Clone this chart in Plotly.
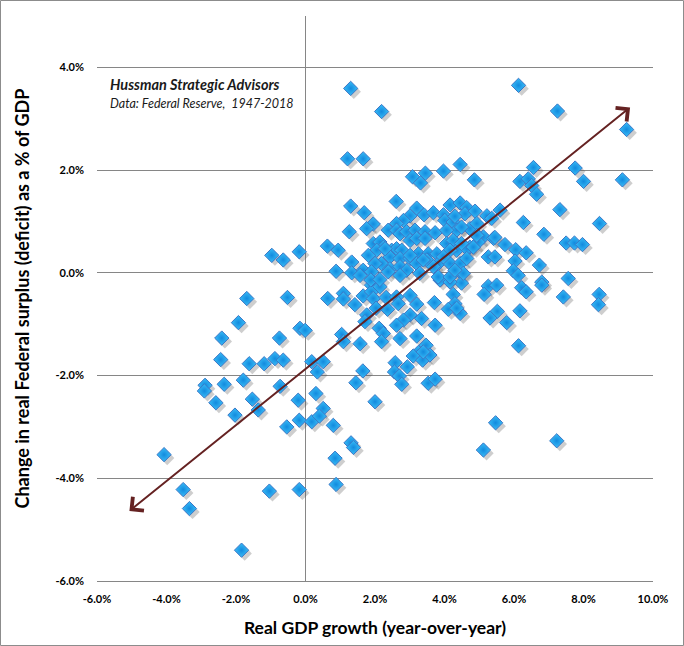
import plotly.graph_objects as go

# Real GDP growth (year-over-year, %) and change in real federal surplus (% of GDP)
gdp_growth = [
    # upper / isolated
    1.30, 2.19, 1.21, 1.66, 3.08, 3.45, 3.31, 3.97, 4.45, 4.86, 1.30, 1.69, 2.61, 1.26, 1.95, 1.76,
    0.63, 0.94, -0.18, 1.33, 0.88, 1.33, -0.97, -0.64,
    # right side
    6.13, 7.25, 9.24, 6.56, 7.76, 8.00, 9.12, 6.17, 6.41, 6.51, 6.65, 7.32, 8.46, 6.27, 5.60, 5.22,
    5.36, 6.86, 7.50, 7.74, 7.97, 5.74, 6.05, 6.35, 5.26, 5.45, 6.03, 6.73, 5.98, 6.12, 7.56,
    4.83, 5.12, 5.41, 4.97, 4.73, 5.45,
    # right, below zero
    4.49, 4.49, 5.26, 5.50, 5.14, 6.22, 6.35, 6.80, 6.80, 7.42, 8.45, 8.43, 5.52, 5.31, 5.79, 6.17,
    6.13, 4.45, 5.47, 5.12, 7.23,
    # centre, below zero
    0.64, 1.09, 1.09, 1.42, 1.66, 1.90, 1.90, 2.14, 1.95, 2.32, 2.36, 2.03, 1.76, 1.71, 2.62, 2.67,
    3.01, 3.20, 3.01, 2.82, 2.62, 3.34, 3.71, 3.73, 4.25, 4.30, 4.11, 4.35, 3.87, 4.16,
    2.12, 2.24, 2.19, 1.04, 1.09, 1.57, 2.72, 3.20, 3.47, 3.25, 3.10, 3.37, 3.58, 3.39, 2.58, 2.56,
    2.70, 2.93, 2.77, 3.53, 3.73, 1.65, 1.45, 2.00, 0.18, 0.51, 0.34, 0.30, -0.16, -0.01, 0.51,
    # left side
    -1.69, -0.52, -1.93, -2.41, -0.75, -2.44, -1.62, -1.19, -0.88, -0.64, -2.89, -2.91, -2.34, -1.79,
    -2.58, -1.53, -1.36, -2.03, -0.73, -0.21, -0.54, -0.18, 0.18, 0.40,
    # lower
    -4.07, -3.52, -3.34, -1.84, -1.04, -0.18, 0.88, 0.85, 1.31, 1.38, 0.80,
    # dense cluster
    3.01, 3.20, 3.41, 3.68, 3.97, 4.16, 4.45, 4.64, 4.59, 4.88, 2.82, 2.62, 2.38, 2.62, 2.72, 2.91,
    3.15, 3.44, 3.73, 4.01, 4.25, 4.35, 4.06, 4.73, 4.93, 3.01, 3.20, 3.44, 1.95, 2.14, 2.24, 2.05,
    1.81, 2.48, 2.62, 2.77, 3.25, 3.53, 3.78, 4.06, 4.25, 4.35, 4.64, 4.83, 2.19, 2.43, 2.72, 3.01,
    2.00, 2.43, 2.72, 3.20, 3.49, 3.82, 4.16, 4.45, 4.64, 1.66, 1.90, 2.38, 2.91, 3.29, 3.82, 4.16,
    4.54,
    4.49, 4.49, 4.16, 3.01, 3.97, 4.30, 3.68, 2.72, 4.30, 4.93,
    2.29, 3.39, 1.57, 1.88, 2.14,
]

surplus_change = [
    3.59, 3.14, 2.22, 2.22, 1.87, 1.94, 1.75, 1.98, 2.11, 1.81, 1.30, 1.17, 1.39, 0.80, 0.95, 0.86,
    0.52, 0.44, 0.41, 0.21, 0.03, 0.00, 0.34, 0.25,
    3.65, 3.15, 2.79, 2.05, 2.04, 1.78, 1.81, 1.78, 1.83, 1.70, 1.53, 1.23, 0.96, 0.98, 1.22, 1.11,
    1.06, 0.75, 0.58, 0.58, 0.55, 0.55, 0.45, 0.39, 0.31, 0.31, 0.23, 0.15, 0.04, -0.05, -0.11,
    0.80, 0.70, 0.67, 0.60, 0.50, 0.69,
    -0.01, -0.20, -0.26, -0.24, -0.42, -0.29, -0.37, -0.18, -0.24, -0.47, -0.42, -0.62, -0.75, -0.88, -0.97, -0.74,
    -1.42, -0.79, -2.92, -3.45, -3.27,
    -0.50, -0.40, -0.51, -0.62, -0.45, -0.24, -0.37, -0.27, -0.50, -0.48, -0.71, -0.69, -0.82, -0.95, -0.47, -0.60,
    -0.44, -0.61, -0.82, -0.92, -1.02, -0.89, -0.58, -1.02, -0.42, -0.60, -0.71, -0.69, -0.14, -0.18,
    -1.08, -1.18, -1.34, -1.20, -1.34, -1.38, -1.28, -1.23, -1.41, -1.55, -1.62, -1.70, -1.60, -1.54, -1.75, -1.93,
    -2.01, -1.83, -2.17, -2.15, -2.07, -1.91, -2.14, -2.51, -1.73, -1.73, -1.93, -2.35, -1.08, -1.12, -2.64,
    -0.50, -0.48, -0.97, -1.27, -1.27, -1.69, -1.77, -1.77, -1.67, -1.70, -2.19, -2.30, -2.17, -2.09,
    -2.53, -2.46, -2.67, -2.77, -2.21, -2.48, -3.00, -2.87, -2.90, -2.79,
    -3.54, -4.22, -4.59, -5.40, -4.25, -4.22, -4.12, -3.61, -3.31, -3.40, -2.97,
    1.11, 1.26, 1.13, 1.17, 1.13, 1.32, 1.36, 1.27, 1.15, 1.20, 1.02, 0.96, 0.83, 0.83, 0.76, 0.80,
    0.83, 0.80, 0.78, 1.02, 0.99, 0.83, 0.83, 0.86, 0.96, 0.63, 0.67, 0.67, 0.57, 0.60, 0.50, 0.44,
    0.34, 0.44, 0.47, 0.44, 0.37, 0.37, 0.37, 0.57, 0.63, 0.44, 0.47, 0.50, 0.18, 0.31, 0.28, 0.28,
    0.18, 0.08, 0.12, 0.18, 0.25, 0.18, 0.18, 0.18, 0.28, 0.05, 0.02, 0.02, 0.05, -0.01, -0.08, -0.08,
    -0.01,
    0.89, 0.57, 0.44, 0.34, 0.31, 0.05, 0.12, -0.05, 1.10, 0.73,
    0.47, 0.25, -0.05, -0.14, -0.13,
]

trend_start = [-5.11, -4.66]
trend_end = [9.34, 3.22]

x_ticks = [-6, -4, -2, 0, 2, 4, 6, 8, 10]
y_ticks = [-6, -4, -2, 0, 2, 4]

W, H = 684, 646
ML, MR, MT, MB = 97, 31, 16, 65

fig = go.Figure()

# soft drop shadow of the markers
fig.add_trace(go.Scatter(
    x=[v + 0.09 for v in gdp_growth], y=[v - 0.065 for v in surplus_change],
    mode="markers", hoverinfo="skip", showlegend=False,
    marker=dict(symbol="diamond", size=11, color="rgba(80,80,80,0.28)", line=dict(width=0)),
))

fig.add_trace(go.Scatter(
    x=gdp_growth, y=surplus_change, mode="markers", showlegend=False,
    marker=dict(symbol="diamond", size=11, color="#38bdf7",
                gradient=dict(type="radial", color="#138ade"),
                line=dict(color="#3a76c6", width=1)),
))

fig.add_annotation(
    x=trend_end[0], y=trend_end[1], ax=trend_start[0], ay=trend_start[1],
    xref="x", yref="y", axref="x", ayref="y", text="", showarrow=True,
    arrowhead=4, startarrowhead=4, arrowside="end+start",
    arrowsize=1.7, startarrowsize=1.7, arrowwidth=2, arrowcolor="#652222",
)

fig.add_annotation(x=-5.68, y=3.66, xref="x", yref="y", xanchor="left", yanchor="middle",
                   text="<b><i>Hussman Strategic Advisors</i></b>", showarrow=False,
                   font=dict(family="Lato", size=14.5, color="#1a1a1a"))
fig.add_annotation(x=-5.68, y=3.29, xref="x", yref="y", xanchor="left", yanchor="middle",
                   text="<i>Data: Federal Reserve,  1947-2018</i>", showarrow=False,
                   font=dict(family="Lato", size=12.5, color="#1a1a1a"))

pw = W - ML - MR
ph = H - MT - MB
fig.add_shape(type="rect", xref="paper", yref="paper",
              x0=(0.5 - ML) / pw, x1=(W - 0.5 - ML) / pw,
              y0=-(MB - 0.5) / ph, y1=(H - MB - 0.5) / ph,
              line=dict(color="#8c8c8c", width=1), layer="below")

fig.update_layout(
    width=W, height=H, margin=dict(l=ML, r=MR, t=MT, b=MB, autoexpand=False),
    paper_bgcolor="white", plot_bgcolor="white",
    font=dict(family="Lato", color="#000000"),
    xaxis=dict(
        range=[-6, 10], tickvals=x_ticks, ticktext=[f"<b>{v:.1f}%</b>" for v in x_ticks],
        showgrid=False, zeroline=True, zerolinecolor="#868686", zerolinewidth=1,
        showline=True, linecolor="#868686", linewidth=1, ticks="",
        tickfont=dict(family="Lato", size=11, color="#000"), ticklabelstandoff=8,
        title=dict(text="<b>Real GDP growth (year-over-year)</b>", standoff=17,
                   font=dict(family="Lato", size=17.5, color="#000")),
    ),
    yaxis=dict(
        range=[-6, 5], tickvals=y_ticks, ticktext=[f"<b>{v:.1f}%</b>" for v in y_ticks],
        showgrid=True, gridcolor="#868686", gridwidth=1, zeroline=False,
        showline=False, ticks="",
        tickfont=dict(family="Lato", size=11, color="#000"), ticklabelstandoff=12,
        title=dict(text="<b>Change in real Federal surplus (deficit) as a % of GDP</b>", standoff=21,
                   font=dict(family="Lato", size=18, color="#000")),
    ),
)

fig.write_html("out.html", config={"displayModeBar": False},
               post_script="document.body.style.margin='0';")
